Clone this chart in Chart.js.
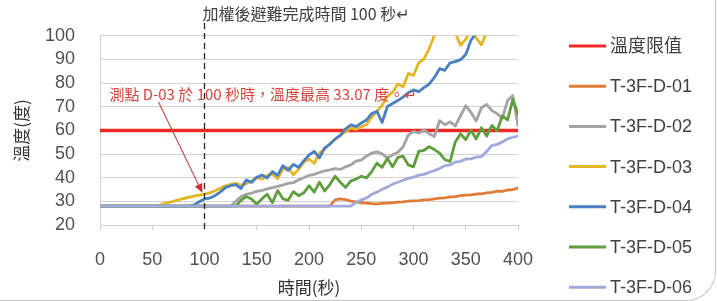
<!DOCTYPE html>
<html lang="zh-Hant-TW"><head><meta charset="utf-8">
<script src="https://cdn.jsdelivr.net/npm/chart.js@4.4.1/dist/chart.umd.min.js"></script>
<style>
html,body{margin:0;padding:0;background:#fff;overflow:hidden}
#wrap{position:relative;width:717px;height:301px}
#frame{position:absolute;left:0;top:0;width:716px;height:301px;border-right:1px solid #c4c4c4;border-bottom:1px solid #c4c4c4;border-bottom-right-radius:30px;box-sizing:border-box}
canvas{position:absolute;left:0;top:0}
</style></head><body>
<div id="wrap"><div id="frame"></div><canvas id="c" lang="zh-Hant-TW" width="717" height="301"></canvas></div>
<script>
// ---- data ----
const seconds = [
  0,5,10,15,20,25,30,35,40,45,50,55,60,65,70,75,80,85,90,95,
  100,105,110,115,120,125,130,135,140,145,150,155,160,165,170,175,180,185,190,195,
  200,205,210,215,220,225,230,235,240,245,250,255,260,265,270,275,280,285,290,295,
  300,305,310,315,320,325,330,335,340,345,350,355,360,365,370,375,380,385,390,395,
  400];
const limitSeconds = [0, 400];
const limitValues = [60, 60];
const d01 = [
  28,28,28,28,28,28,28,28,28,28,
  28,28,28,28,28,28,28,28,28,28,
  28,28,28,28,28,28,28,28,28,28,
  28,28,28,28,28,28,28,28,28,28,
  28,28,28,28,28,
  30.6,31.0,30.7,30.1,29.8,29.4,29.3,29.0,28.9,29.1,
  29.3,29.4,29.7,29.8,30.1,30.2,30.3,30.6,30.7,31.0,
  31.4,31.5,31.9,32.0,32.4,32.6,32.7,33.1,33.2,33.6,
  33.8,34.3,34.2,34.8,35.0,35.6];
const d02 = [
  28,28,28,28,28,28,28,28,28,28,
  28,28,28,28,28,28,28,28,28,28,
  28,28,28,28,28,28,
  30,32,33,33.5,34.2,34.6,35.3,35.8,36.3,36.9,
  37.6,37.9,39.1,40.0,41.0,41.4,42.2,42.9,43.3,43.8,
  43.5,44.6,45.4,47.0,47.4,49.1,50.4,50.9,50.1,48.4,
  49.6,50.8,53.0,58.0,59.6,58.9,60.2,58.6,57.4,64.1,
  62.4,63.6,61.9,66.2,70.4,67.6,64.1,69.6,71.0,68.4,
  67.1,65.2,72.6,74.8,62.0];
const d03 = [
  28,28,28,28,28,28,28,28,28,28,
  28,28,
  28.8,29.5,30.0,30.6,31.2,31.7,32.2,32.6,33.07,33.6,
  34.5,35.5,36.5,37.2,37.6,36.8,37.5,38.6,40.1,39.4,
  41.0,41.6,39.6,43.6,44.4,41.2,43.6,46.6,47.9,46.1,
  50.4,52.1,54.4,56.1,58.0,59.4,61.1,60.4,61.6,62.4,
  65.6,68.1,70.6,74.4,76.1,79.6,78.4,84.1,83.2,88.6,
  90.1,94.6,100.2,102.3,105.8,103.9,101.2,96.0,98.6,102.4,
  99.1,96.2,101.5,106.3,109.4,111.8,113.1,115.6,117.2];
const d04 = [
  28,28,28,28,28,28,28,28,28,28,
  28,28,28,28,28,28,28,28,
  28.5,29.8,31.0,31.4,32.4,33.9,35.8,36.6,37.1,35.4,
  39.1,38.0,40.2,41.1,39.9,42.6,41.0,45.1,43.1,45.6,
  44.4,47.1,49.6,51.1,48.4,52.6,54.1,56.4,57.9,60.6,
  62.4,61.6,63.1,64.4,67.1,68.0,63.4,70.1,71.4,72.6,
  74.1,75.9,77.1,76.4,78.1,79.6,82.4,86.1,85.4,88.6,
  89.1,89.9,92.1,98.1,101.2,104.1,106.3,108.1,110.2,112.4,
  114.1,116.3,118.0];
const d05 = [
  28,28,28,28,28,28,28,28,28,28,
  28,28,28,28,28,28,28,28,28,28,
  28,28,28,28,28,28,28,
  30.4,32.1,31.0,28.8,31.1,33.0,29.4,34.6,31.1,30.4,
  34.1,32.4,33.6,36.6,33.9,38.1,34.4,37.1,40.6,38.1,
  35.9,38.6,39.4,40.6,39.9,42.6,46.1,44.4,48.1,44.6,
  48.6,49.1,45.4,44.6,51.1,51.6,53.1,51.9,50.4,47.6,
  46.9,55.1,58.6,56.1,60.1,56.4,61.1,57.6,62.1,59.9,
  66.1,64.4,73.1,66.9];
const d06 = [
  28,28,28,28,28,28,28,28,28,28,
  28,28,28,28,28,28,28,28,28,28,
  28,28,28,28,28,28,28,28,28,28,
  28,28,28,28,28,28,28,28,28,28,
  28,28,28,28,28,28,28,28,28,
  29.6,30.6,31.4,33.0,33.9,35.1,36.0,37.3,38.1,38.9,
  39.7,40.2,41.1,41.4,42.3,43.0,43.9,45.1,45.4,46.6,
  46.9,47.9,48.0,48.7,48.9,51.1,53.6,54.1,55.1,56.4,
  57.1,57.6];
const seriesNames = ['溫度限值','T-3F-D-01','T-3F-D-02','T-3F-D-03','T-3F-D-04','T-3F-D-05','T-3F-D-06'];
const seriesColors = ['#ee2a24','#e07b39','#a3a3a3','#e3b623','#4a7fc2','#5f9e3d','#a0aada'];
const xTicks = [0,50,100,150,200,250,300,350,400];
const yTicks = [20,30,40,50,60,70,80,90,100];
const chartTitle = '加權後避難完成時間 100 秒↵';
const noteText = '測點 D-03 於 100 秒時，溫度最高 33.07 度。↵';
const evacTime = 100;
const notePos = [9, 75.3];
const arrowFrom = [56, 72];
const arrowTo = [98, 33.6];

// ---- build ----
const toPts = (xs, ys) => xs.map((s, i) => ({x: s, y: ys[i]}));
const seriesValues = [d01, d02, d03, d04, d05, d06];
const datasets = [{
  label: seriesNames[0], data: toPts(limitSeconds, limitValues),
  borderColor: seriesColors[0], borderWidth: 3.5, order: 6
}];
seriesValues.forEach((v, k) => datasets.push({
  label: seriesNames[k + 1], data: toPts(seconds, v),
  borderColor: seriesColors[k + 1], borderWidth: 2.8, order: 5 - k
}));

const LAT = '"Liberation Sans", "Noto Sans CJK TC", sans-serif';
const CJK = '"Noto Sans CJK TC", "DejaVu Sans", sans-serif';

const overlay = {
  id: 'overlay',
  afterDatasetsDraw(chart) {
    const {ctx, chartArea, scales: {x, y}} = chart;
    ctx.save();
    const xd = x.getPixelForValue(evacTime);
    ctx.strokeStyle = '#222'; ctx.lineWidth = 1.3; ctx.setLineDash([6, 4]);
    ctx.beginPath(); ctx.moveTo(xd, 23); ctx.lineTo(xd, chartArea.bottom + 7); ctx.stroke();
    ctx.setLineDash([]);
    // arrow
    const x1 = x.getPixelForValue(arrowFrom[0]), y1 = y.getPixelForValue(arrowFrom[1]);
    const x2 = x.getPixelForValue(arrowTo[0]), y2 = y.getPixelForValue(arrowTo[1]);
    const a = Math.atan2(y2 - y1, x2 - x1);
    const L = 9, W = 4;
    ctx.strokeStyle = '#c04848'; ctx.lineWidth = 1.1;
    ctx.beginPath(); ctx.moveTo(x1, y1); ctx.lineTo(x2 - L * Math.cos(a), y2 - L * Math.sin(a)); ctx.stroke();
    ctx.fillStyle = '#d42a2a';
    ctx.beginPath();
    ctx.moveTo(x2, y2);
    ctx.lineTo(x2 - L * Math.cos(a) + W * Math.sin(a), y2 - L * Math.sin(a) - W * Math.cos(a));
    ctx.lineTo(x2 - L * Math.cos(a) - W * Math.sin(a), y2 - L * Math.sin(a) + W * Math.cos(a));
    ctx.closePath(); ctx.fill();
    // note text
    ctx.font = '15px ' + CJK; ctx.fillStyle = '#d8453a';
    ctx.textAlign = 'left'; ctx.textBaseline = 'middle';
    ctx.fillText(noteText, x.getPixelForValue(notePos[0]), y.getPixelForValue(notePos[1]));
    ctx.restore();
  },
  afterDraw(chart) {
    const {ctx, chartArea} = chart;
    ctx.save();
    // title
    ctx.font = '16px ' + CJK; ctx.fillStyle = '#404040';
    ctx.textAlign = 'center'; ctx.textBaseline = 'middle';
    ctx.fillText(chartTitle, (chartArea.left + chartArea.right) / 2 - 3, 14);
    // legend
    chart.data.datasets.forEach((ds, i) => {
      const yy = 46 + i * 40.2;
      ctx.strokeStyle = ds.borderColor; ctx.lineWidth = 3;
      ctx.beginPath(); ctx.moveTo(569, yy); ctx.lineTo(606, yy); ctx.stroke();
      ctx.font = '18px ' + LAT; ctx.fillStyle = '#404040';
      ctx.textAlign = 'left'; ctx.textBaseline = 'middle';
      ctx.fillText(ds.label, 610, yy + 1);
    });
    ctx.restore();
  }
};

new Chart(document.getElementById('c'), {
  type: 'line',
  data: {datasets},
  options: {
    responsive: false, animation: false, devicePixelRatio: 1,
    layout: {padding: {left: 0, right: 199, top: 28, bottom: 0}},
    plugins: {legend: {display: false}, tooltip: {enabled: false}, title: {display: false}},
    elements: {point: {radius: 0}, line: {tension: 0, borderCapStyle: 'round', borderJoinStyle: 'round'}},
    scales: {
      x: {
        type: 'linear', min: 0, max: 400,
        afterBuildTicks: s => { s.ticks = xTicks.map(v => ({value: v})); },
        afterFit: s => { s.height = 76; },
        ticks: {autoSkip: false, maxRotation: 0, padding: 19, color: '#505050', font: {family: LAT, size: 18}},
        grid: {drawOnChartArea: false, drawTicks: true, tickLength: 5, color: '#cfcfcf'},
        border: {color: '#cfcfcf'},
        title: {display: true, text: '時間(秒)', color: '#333', font: {family: CJK, size: 17}, padding: {top: 0, bottom: 3}}
      },
      y: {
        min: 20, max: 100,
        afterBuildTicks: s => { s.ticks = yTicks.map(v => ({value: v})); },
        afterFit: s => { s.width = 100; },
        ticks: {autoSkip: false, padding: 25, color: '#505050', font: {family: LAT, size: 18}},
        grid: {drawTicks: false, color: '#d2d2d2'},
        border: {color: '#d2d2d2'},
        title: {display: true, text: '溫度(度)', color: '#333', font: {family: CJK, size: 17}, padding: {top: 11, bottom: 0}}
      }
    }
  },
  plugins: [overlay]
});
</script></body></html>
